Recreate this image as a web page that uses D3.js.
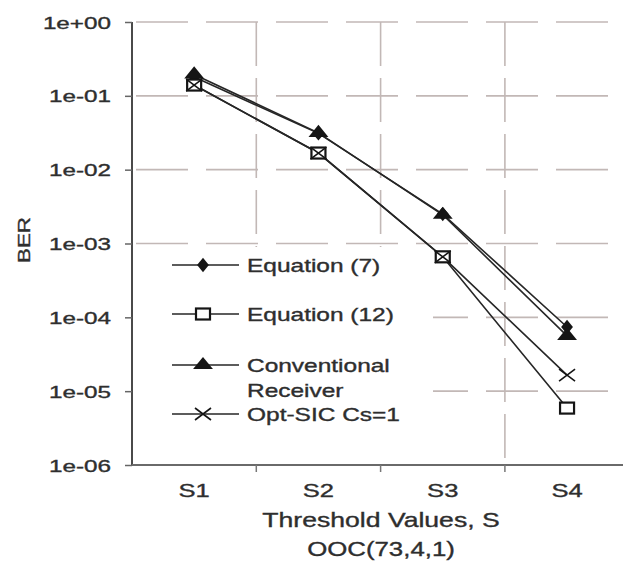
<!DOCTYPE html>
<html>
<head>
<meta charset="utf-8">
<script src="https://cdn.jsdelivr.net/npm/d3@7/dist/d3.min.js"></script>
<style>
  html, body { margin: 0; padding: 0; background: #fff; }
  svg { display: block; }
  text { font-family: "Liberation Sans", Arial, sans-serif; fill: #2e2e2e; stroke: #2e2e2e; stroke-width: 0.35px; }
</style>
</head>
<body>
<svg id="chart" width="623" height="562"></svg>
<script>
// ---- data ----
const categories = ["S1", "S2", "S3", "S4"];
const eq7    = [0.18, 0.031, 2.5e-3, 7.4e-5];
const eq12   = [0.14, 0.0168, 6.6e-4, 5.9e-6];
const conv   = [0.195, 0.0315, 2.45e-3, 5.6e-5];
const optSic = [0.14, 0.0168, 6.6e-4, 1.65e-5];
const yTickValues = [1, 1e-1, 1e-2, 1e-3, 1e-4, 1e-5, 1e-6];
const yTickLabels = ["1e+00", "1e-01", "1e-02", "1e-03", "1e-04", "1e-05", "1e-06"];
const legendLabels = [["Equation (7)"], ["Equation (12)"], ["Conventional", "Receiver"], ["Opt-SIC Cs=1"]];

(function () {
// ---- layout ----
const W = 623, H = 562;
const pLeft = 132, pTop = 22, pBottom = 465;
const bandW = 124.3;
const SX = 1.42; // horizontal stretch of the original figure text/markers

const svg = d3.select("#chart");

const x = d3.scaleBand().domain(categories).range([pLeft, pLeft + bandW * categories.length]).padding(0);
const y = d3.scaleLog().domain([1e-6, 1]).range([pBottom, pTop]);
const cx = c => x(c) + x.bandwidth() / 2;

const gridColor = "#c2b8b6";

// horizontal grid
svg.append("g").selectAll("line").data(yTickValues.slice(0, -1)).join("line")
  .attr("x1", pLeft).attr("x2", W)
  .attr("y1", d => y(d)).attr("y2", d => y(d))
  .attr("stroke", gridColor).attr("stroke-width", 1.6)
  .attr("stroke-dasharray", "52,18").attr("stroke-dashoffset", -4);

// vertical grid at band boundaries
const edges = categories.slice(1).map(c => x(c));
svg.append("g").selectAll("line").data(edges).join("line")
  .attr("x1", d => d).attr("x2", d => d)
  .attr("y1", pTop).attr("y2", pBottom)
  .attr("stroke", gridColor).attr("stroke-width", 1.6)
  .attr("stroke-dasharray", "44,12");

// legend background (covers grid)
svg.append("rect").attr("x", pLeft + 1).attr("y", 247).attr("width", 300).attr("height", pBottom - 247 - 1)
  .attr("fill", "#fff");

// y axis
const yAxis = d3.axisLeft(y).tickValues(yTickValues).tickSize(7).tickFormat((d, i) => yTickLabels[i]);
const gy = svg.append("g").attr("transform", `translate(${pLeft},0)`).call(yAxis);
gy.select(".domain").attr("stroke", "#4a4a4a").attr("stroke-width", 2).attr("d", `M0,${pTop}V${pBottom}`);
gy.selectAll(".tick line").attr("stroke", "#666").attr("stroke-width", 1.5);
gy.selectAll(".tick text")
  .attr("x", null).attr("dy", null)
  .attr("font-size", 16.5)
  .attr("text-anchor", "end")
  .attr("transform", `translate(-21,6) scale(1.47,1)`);

// x axis
const gx = svg.append("g").attr("transform", `translate(0,${pBottom})`).call(d3.axisBottom(x).tickSize(0));
gx.select(".domain").attr("stroke", "#6a6a6a").attr("stroke-width", 2).attr("d", `M${pLeft},0H${W}`);
gx.selectAll(".tick text")
  .attr("y", null).attr("dy", null)
  .attr("font-size", 18)
  .attr("text-anchor", "middle")
  .attr("transform", `translate(0,32) scale(${SX},1)`);
svg.append("g").selectAll("line").data(edges).join("line")
  .attr("x1", d => d).attr("x2", d => d).attr("y1", pBottom).attr("y2", pBottom + 7)
  .attr("stroke", "#777").attr("stroke-width", 1.5);

// axis titles
svg.append("text").attr("transform", `translate(381,527) scale(1.33,1)`)
  .attr("text-anchor", "middle").attr("font-size", 20).text("Threshold Values, S");
svg.append("text").attr("transform", `translate(381,556) scale(1.29,1)`)
  .attr("text-anchor", "middle").attr("font-size", 20).text("OOC(73,4,1)");
svg.append("text").attr("transform", `translate(30,240) rotate(-90) scale(1.32,1)`)
  .attr("text-anchor", "middle").attr("font-size", 17).text("BER");

// ---- markers ----
const ink = "#151515";
function drawMarker(g, type, px, py) {
  const m = g.append("g").attr("transform", `translate(${px},${py})`);
  if (type === "diamond") {
    m.append("path").attr("d", d3.symbol().type(d3.symbolDiamond).size(60)())
      .attr("transform", `scale(${SX},1)`).attr("fill", ink);
  } else if (type === "triangle") {
    m.append("path").attr("d", d3.symbol().type(d3.symbolTriangle).size(85)())
      .attr("transform", `scale(${SX},1)`).attr("fill", ink);
  } else if (type === "square") {
    m.append("rect").attr("x", -7).attr("y", -5.5).attr("width", 14).attr("height", 11)
      .attr("fill", "#fff").attr("stroke", ink).attr("stroke-width", 2.2);
  } else if (type === "cross") {
    m.append("path").attr("d", "M-8,-6L8,6M-8,6L8,-6").attr("stroke", ink).attr("stroke-width", 1.6).attr("fill", "none");
  }
}

const series = {
  eq7:  { values: eq7, marker: "diamond" },
  conv: { values: conv, marker: "triangle" },
  eq12: { values: eq12, marker: "square" },
  opt:  { values: optSic, marker: "cross" }
};
const drawOrder = ["eq7", "conv", "eq12", "opt"];
const legendOrder = ["eq7", "eq12", "conv", "opt"];

const line = d3.line().x((d, i) => cx(categories[i])).y(d => y(d));
const gData = svg.append("g");
drawOrder.forEach(k => {
  gData.append("path").datum(series[k].values).attr("d", line)
    .attr("fill", "none").attr("stroke", "#262626").attr("stroke-width", 1.6);
});
drawOrder.forEach(k => {
  series[k].values.forEach((v, i) => drawMarker(gData, series[k].marker, cx(categories[i]), y(v)));
});

// ---- legend ----
const legendRows = [265, 314, 365, 414];
const gl = svg.append("g");
legendOrder.forEach((k, i) => {
  const ly = legendRows[i];
  gl.append("line").attr("x1", 172).attr("x2", 239).attr("y1", ly).attr("y2", ly)
    .attr("stroke", "#262626").attr("stroke-width", 1.6);
  drawMarker(gl, series[k].marker, 203, ly);
  legendLabels[i].forEach((t, j) => {
    gl.append("text").attr("transform", `translate(247,${ly + 6.5 + j * 25}) scale(1.36,1)`)
      .attr("font-size", 18).text(t);
  });
});
})();
</script>
</body>
</html>
